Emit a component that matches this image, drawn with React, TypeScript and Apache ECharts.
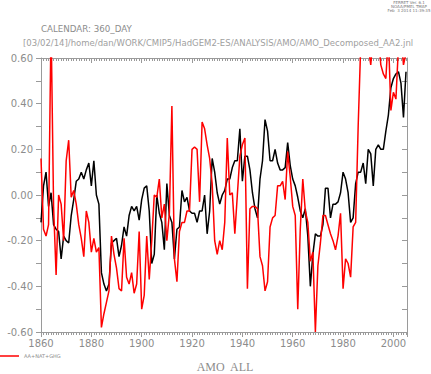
import React, { useEffect, useRef } from "react";
import * as echarts from "echarts";

const startYear = 1860;
const xTickLabels = [1860, 1880, 1900, 1920, 1940, 1960, 1980, 2000];
const yTickLabels = ["-0.60", "-0.40", "-0.20", "0.00", "0.20", "0.40", "0.60"];

// black series (1860..2005)
const blackValues = [
  -0.12, 0.04, 0.10, -0.05, 0.01, -0.13, -0.15, -0.16, -0.28, -0.18,
  -0.20, -0.21, -0.09, -0.02, 0.06, 0.07, 0.10, 0.07, 0.11, 0.14,
  0.04, 0.15, 0.00, -0.04, -0.34, -0.39, -0.42, -0.39, -0.21, -0.20,
  -0.19, -0.27, -0.22, -0.14, -0.18, -0.09, -0.05, -0.07, -0.05, -0.11,
  -0.02, 0.03, 0.04, -0.07, -0.30, -0.26, 0.00, -0.08, -0.12, -0.24,
  0.05, -0.09, -0.12, -0.28, -0.15, -0.14, 0.02, -0.03, -0.01, -0.07,
  -0.08, -0.08, -0.12, -0.07, -0.07, 0.00, -0.17, -0.07, 0.16, 0.10,
  0.01, -0.04, 0.00, 0.02, 0.07, 0.07, 0.12, 0.15, 0.15, 0.29,
  0.06, 0.17, 0.17, 0.11, 0.01, -0.06, -0.10, 0.07, 0.15, 0.33,
  0.28, 0.15, 0.15, 0.20, 0.14, 0.11, 0.11, 0.12, 0.23, 0.13,
  0.07, 0.04, -0.01, -0.07, -0.10, -0.06, -0.18, -0.40, -0.26, -0.17,
  -0.18, -0.18, -0.13, 0.03, 0.03, -0.10, -0.04, -0.04, -0.03, 0.01,
  0.10, 0.07, 0.01, -0.12, -0.10, 0.05, 0.10, 0.10, 0.14, 0.05,
  0.20, 0.18, 0.04, 0.20, 0.22, 0.20, 0.20, 0.28, 0.35, 0.47,
  0.51, 0.53, 0.54, 0.49, 0.34, 0.54,
];

// red series AA+NAT+GHG (1860..2005)
const redValues = [
  0.16, -0.15, -0.18, -0.13, 0.75, -0.05, -0.35, 0.00, -0.04, -0.20,
  0.15, 0.24, -0.01, 0.02, -0.04, -0.13, -0.19, -0.27, -0.07, -0.12,
  -0.25, -0.19, -0.25, -0.23, -0.58, -0.52, -0.47, -0.42, -0.18, -0.26,
  -0.32, -0.41, -0.42, -0.19, -0.36, -0.39, -0.34, -0.43, -0.39, -0.16,
  -0.50, -0.44, -0.18, -0.37, -0.20, 0.00, -0.01, 0.07, -0.10, -0.04,
  -0.20, -0.08, 0.39, -0.28, -0.38, -0.16, -0.12, -0.12, -0.07, -0.07,
  0.20, 0.21, 0.20, -0.03, 0.32, 0.29, 0.22, 0.16, 0.05, -0.20,
  -0.26, -0.20, -0.24, -0.12, 0.25, 0.00, 0.01, -0.17, 0.00, 0.17,
  0.22, 0.25, -0.41, -0.06, -0.05, -0.05, -0.06, -0.27, -0.31, -0.42,
  -0.38, -0.14, -0.10, -0.09, 0.04, 0.04, 0.06, -0.02, 0.19, 0.08,
  -0.05, -0.09, -0.50, -0.15, 0.07, -0.07, -0.12, -0.29, -0.25, -0.60,
  -0.31, -0.21, -0.09, -0.09, -0.13, -0.17, -0.20, -0.24, -0.18, -0.08,
  -0.41, -0.28, -0.30, -0.36, -0.14, -0.12, 0.30, 0.65, 0.75, 0.70,
  0.65, 0.57, 0.70, 0.80, 0.70, 0.57, 0.53, 0.51, 0.70, 0.37,
  0.45, 0.42, 0.65, 0.70, 0.57, 0.62,
];

const headerLines = ["FERRET Ver. 6.1", "NOAA/PMEL TMAP", "Feb  3 2014 11:39:35"];
const calendarText = "CALENDAR: 360_DAY";
const pathText =
  "[03/02/14]/home/dan/WORK/CMIP5/HadGEM2-ES/ANALYSIS/AMO/AMO_Decomposed_AA2.jnl";
const legendLabel = "AA+NAT+GHG";
const titleText = "AMO  ALL";

const GRAY = "#8c8c8c";
const AXIS = "#9a9a9a";

export default function App() {
  const ref = useRef<HTMLDivElement>(null);
  useEffect(() => {
    if (!ref.current) return;
    const chart = echarts.init(ref.current, null, { renderer: "svg" });
    const toPairs = (vals: number[]) => vals.map((v, i) => [startYear + i, v]);
    const xCommon = {
      type: "value" as const,
      min: 1860,
      max: 2005.4,
      interval: 20,
      splitLine: { show: false },
      axisLine: { show: true, onZero: false, lineStyle: { color: AXIS, width: 1 } },
      minorTick: { show: true, splitNumber: 20, length: 3, lineStyle: { color: AXIS } },
      minorSplitLine: { show: false },
    };
    const yCommon = {
      type: "value" as const,
      min: -0.6,
      max: 0.6,
      interval: 0.2,
      splitLine: { show: false },
      axisLine: { show: true, onZero: false, lineStyle: { color: AXIS, width: 1 } },
      minorTick: { show: true, splitNumber: 2, length: 5, lineStyle: { color: AXIS } },
      minorSplitLine: { show: false },
    };
    chart.setOption({
      animation: false,
      grid: { left: 41, top: 58, right: 24, bottom: 42, containLabel: false },
      xAxis: [
        {
          ...xCommon,
          position: "bottom",
          axisTick: { show: true, length: 5, lineStyle: { color: AXIS } },
          axisLabel: {
            color: GRAY,
            fontFamily: "DejaVu Sans",
            fontSize: 10,
            margin: 6,
            formatter: (v: number) => (xTickLabels.includes(Math.round(v)) && Math.abs(v - Math.round(v)) < 1e-6 ? String(Math.round(v)) : ""),
          },
        },
        {
          ...xCommon,
          position: "top",
          axisTick: { show: true, inside: true, length: 5, lineStyle: { color: AXIS } },
          axisLabel: { show: false },
        },
      ],
      yAxis: [
        {
          ...yCommon,
          position: "left",
          axisTick: { show: true, length: 5, lineStyle: { color: AXIS } },
          axisLabel: {
            color: GRAY,
            fontFamily: "DejaVu Sans",
            fontSize: 10,
            margin: 8,
            formatter: (v: number) => {
              const idx = Math.round((v + 0.6) / 0.2);
              return yTickLabels[idx] ?? "";
            },
          },
        },
        {
          ...yCommon,
          position: "right",
          axisTick: { show: true, inside: true, length: 5, lineStyle: { color: AXIS } },
          axisLabel: { show: false },
        },
      ],
      series: [
        {
          type: "line",
          name: "AMO",
          data: toPairs(blackValues),
          showSymbol: false,
          clip: true,
          lineStyle: { color: "#000000", width: 1.5 },
          itemStyle: { color: "#000000" },
        },
        {
          type: "line",
          name: legendLabel,
          data: toPairs(redValues),
          showSymbol: false,
          clip: true,
          lineStyle: { color: "#ff0000", width: 1.5 },
          itemStyle: { color: "#ff0000" },
        },
      ],
      graphic: [
        ...headerLines.map((t, i) => ({
          type: "text",
          x: 409,
          y: 2 + i * 4,
          style: {
            text: t,
            fill: "#777",
            fontSize: 4,
            fontFamily: "DejaVu Sans",
            textAlign: "center",
            textVerticalAlign: "middle",
          },
        })),
        {
          type: "text",
          x: 41,
          y: 29,
          style: {
            text: calendarText,
            fill: GRAY,
            fontSize: 8.7,
            fontFamily: "DejaVu Sans",
            textVerticalAlign: "middle",
          },
        },
        {
          type: "text",
          x: 23,
          y: 43,
          style: {
            text: pathText,
            fill: "#a0a0a0",
            fontSize: 8.5,
            fontFamily: "DejaVu Sans",
            textVerticalAlign: "middle",
          },
        },
        {
          type: "line",
          shape: { x1: 0, y1: 356, x2: 19, y2: 356 },
          style: { stroke: "#ff0000", lineWidth: 1.5 },
        },
        {
          type: "text",
          x: 24,
          y: 356,
          style: {
            text: legendLabel,
            fill: GRAY,
            fontSize: 5,
            fontFamily: "DejaVu Sans",
            textVerticalAlign: "middle",
          },
        },
        {
          type: "text",
          x: 225,
          y: 367,
          style: {
            text: titleText,
            fill: GRAY,
            fontSize: 12,
            fontFamily: "Liberation Serif",
            textAlign: "center",
            textVerticalAlign: "middle",
          },
        },
      ],
    });
    return () => chart.dispose();
  }, []);
  return (
    <div
      ref={ref}
      style={{ position: "absolute", left: 0, top: 0, width: 431, height: 374 }}
    />
  );
}
